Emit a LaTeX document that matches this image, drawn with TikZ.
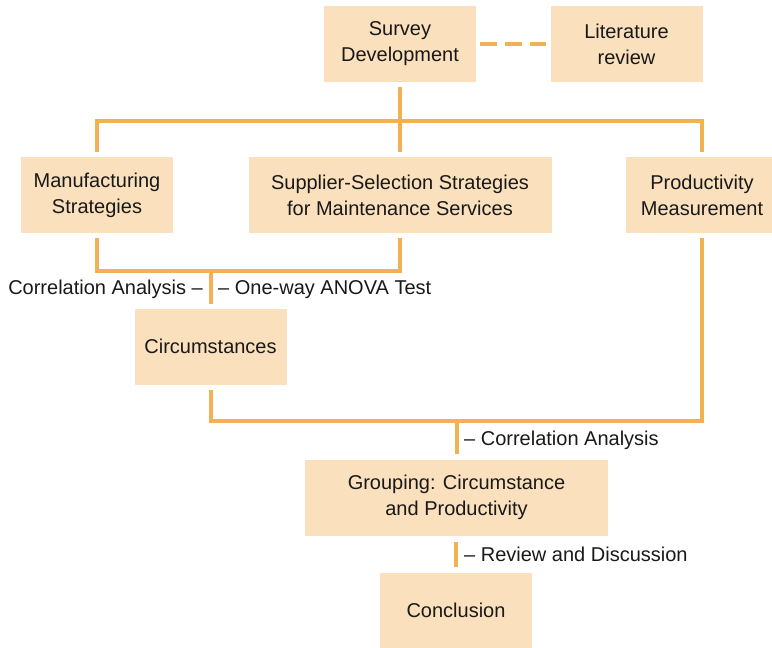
\documentclass[tikz,border=0pt]{standalone}
\usepackage{fontspec}
\setmainfont{Liberation Sans}
\definecolor{boxfill}{RGB}{250,224,189}
\definecolor{linecol}{RGB}{242,178,84}
\definecolor{txt}{RGB}{25,25,25}
\begin{document}
\begin{tikzpicture}[x=1pt,y=-1pt,
  every node/.style={font=\fontsize{20}{26}\selectfont, text=txt},
  box/.style={rectangle, fill=boxfill, draw=none, align=center, inner sep=0pt,
              minimum height=76pt, minimum width=152pt},
  widebox/.style={box, minimum width=303pt},
  conn/.style={draw=linecol, line width=4pt, line join=miter},
  lbl/.style={inner sep=0pt}]
\useasboundingbox (0,0) rectangle (772,648);

\node[box] (sd) at (400,44) {Survey\\Development};
\node[box] (lr) at (626.5,44) {Literature\\review};
\node[box] (ms) at (97,195) {Manufacturing\\Strategies};
\node[widebox] (ss) at (400,195) {Supplier-Selection Strategies\\for Maintenance Services};
\node[box] (pm) at (702,195) {Productivity\\Measurement};
\node[box] (ci) at (210.5,346.5) {Circumstances};
\node[widebox] (gr) at (456.5,497.5) {Grouping: Circumstance\\and Productivity};
\node[box] (co) at (456,610.5) {Conclusion};

% dashed link
\draw[conn, dash pattern=on 17pt off 8pt] ([xshift=4pt]sd.east) -- ([xshift=-4pt]lr.west);

% top bracket
\coordinate (j1) at (400,121);
\draw[conn] ([yshift=-5pt]sd.south) -- (j1);
\draw[conn] ([yshift=5pt]ms.north) |- (j1) -| ([yshift=5pt]pm.north);
\draw[conn] (j1) -- ([yshift=5pt]ss.north);

% second bracket
\coordinate (j2) at (210.5,271);
\draw[conn] ([yshift=-5pt]ms.south) |- (j2) -| ([yshift=-5pt]ss.south);
\draw[conn] (j2) -- ([yshift=4pt]ci.north);
\node[lbl, anchor=base east] (la) at (203,294) {Correlation Analysis –};
\node[lbl, anchor=base west] (lb) at (218,294) {– One-way ANOVA Test};

% third bracket
\coordinate (j3) at (457,421);
\draw[conn] ([yshift=-5pt]ci.south) |- (j3) -| ([yshift=-5pt]pm.south);
\draw[conn] (j3) -- ([yshift=5pt]gr.north -| j3);
\node[lbl, anchor=base west] (lc) at (464,445) {– Correlation Analysis};

% last link
\draw[conn] ([yshift=-6pt]gr.south -| co.north) -- ([yshift=5pt]co.north);
\node[lbl, anchor=base west] (ld) at (464,561) {– Review and Discussion};
\end{tikzpicture}
\end{document}
